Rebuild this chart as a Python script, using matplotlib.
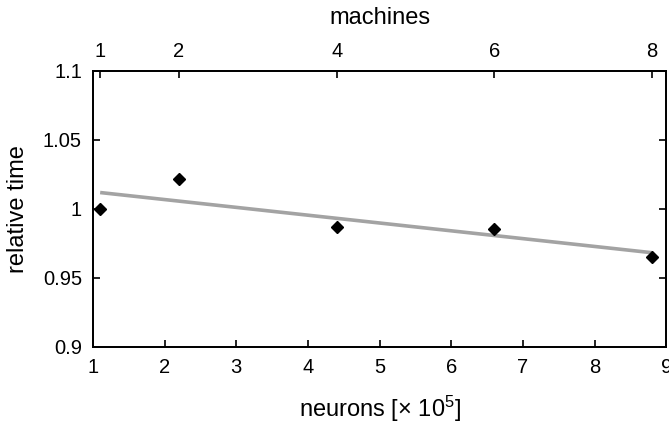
import matplotlib
matplotlib.use("Agg")
import matplotlib.pyplot as plt

plt.rcParams['font.family'] = ['Liberation Sans', 'DejaVu Sans']
plt.rcParams['mathtext.fontset'] = 'custom'
plt.rcParams['mathtext.rm'] = 'Liberation Sans'
plt.rcParams['mathtext.it'] = 'Liberation Sans'

# measured points
neurons = [1.1, 2.2, 4.4, 6.6, 8.8]          # x 10^5
rel_time = [1.000, 1.0215, 0.987, 0.9855, 0.965]
machines = [1, 2, 4, 6, 8]

# linear fit drawn in the original
fit_x = [1.1, 8.8]
fit_y = [1.0118, 0.9682]

x_ticks = [1, 2, 3, 4, 5, 6, 7, 8, 9]
y_ticks = [0.9, 0.95, 1.0, 1.05, 1.1]
y_labels = ["0.9", "0.95", "1", "1.05", "1.1"]

fig = plt.figure(figsize=(6.69, 4.24), dpi=100)
ax = fig.add_axes([0.139, 0.182, 0.857, 0.651])

ax.plot(fit_x, fit_y, color="#a3a3a3", lw=2.6, solid_capstyle="butt", zorder=2)
ax.plot(neurons, rel_time, linestyle="none", marker="D", color="black",
        markersize=6.3, zorder=3)

ax.set_xlim(1, 9)
ax.set_ylim(0.9, 1.1)
ax.set_xticks(x_ticks)
ax.set_yticks(y_ticks)
ax.set_yticklabels(y_labels)
ax.tick_params(direction="in", length=5, width=1.2, labelsize=14.5,
               right=True, top=False, pad=8)
for s in ax.spines.values():
    s.set_linewidth(1.3)

ax.set_xlabel("neurons [× 10$^5$]", fontsize=17, labelpad=12)
ax.set_ylabel("relative time", fontsize=17, labelpad=10)

top = ax.twiny()
top.set_xlim(ax.get_xlim())
top.set_xticks(neurons)
top.set_xticklabels([str(m) for m in machines])
top.tick_params(direction="in", length=5, width=1.2, labelsize=14.5, pad=7)
top.set_xlabel("machines", fontsize=17, labelpad=13)
for s in top.spines.values():
    s.set_linewidth(1.3)

fig.savefig("out.png", dpi=100)
